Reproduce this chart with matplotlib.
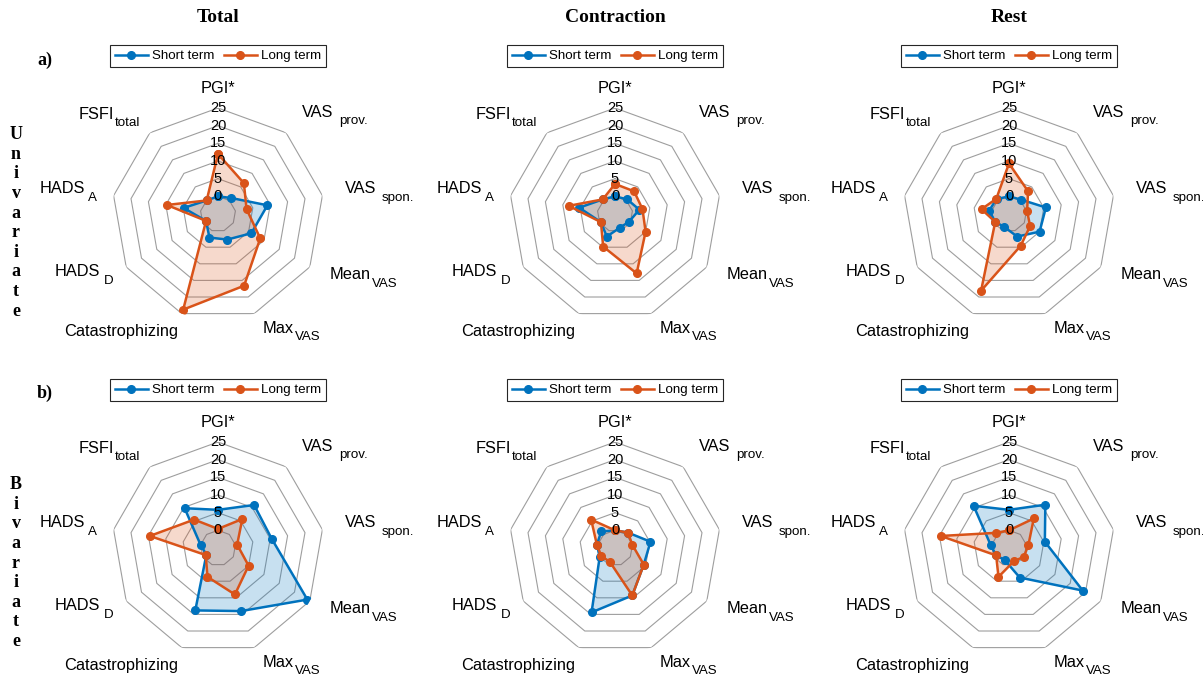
import numpy as np
import matplotlib
matplotlib.use("Agg")
import matplotlib.pyplot as plt
from matplotlib.transforms import ScaledTranslation

plt.rcParams['font.family'] = ['Liberation Sans', 'DejaVu Sans']

# axes of the spider plots (clockwise from top): main text, subscript, gap before subscript
labels = ["PGI*", "VAS", "VAS", "Mean", "Max", "Catastrophizing", "HADS", "HADS", "FSFI"]
subs = ["", "prov.", "spon.", "VAS", "VAS", "", "D", "A", "total"]
gaps = [0, 4, 4, 0.5, 0.5, 0, 2.5, 2.5, 0.5]
# small nudges of the axis labels, in pixels (right, up)
label_dx = [0, 2, 1, 1, 1, 4, 6, 5, 4]
label_dy = [-2, 4, 3, 3, 6, 3, 6, 3, 2]
col_titles = ["Total", "Contraction", "Rest"]
row_tags = ["a)", "b)"]
row_names = ["Univariate", "Bivariate"]
ticks = [0, 5, 10, 15, 20, 25]

# values, order as in labels
uni_total_short = [0, 0.9, 9.2, 5.9, 2.7, 2.1, -1.1, 4.9, 0]
uni_total_long = [12, 6.4, 3.2, 8.8, 16.6, 23.8, -1.1, 9.7, 0]
uni_contr_short = [0, 0.4, 2.0, -0.5, -0.9, 1.8, -0.4, 5.3, 0.4]
uni_contr_long = [3.5, 3.4, 2.9, 5.0, 12.9, 4.8, -0.4, 8.3, 0.4]
uni_rest_short = [0, 0.3, 5.6, 5.0, 1.8, -1.1, -0.5, 0.7, 0.5]
uni_rest_long = [9.3, 3.4, 0.2, 1.9, 4.6, 18.1, -0.5, 2.9, 0.6]
bi_total_short = [5.8, 10.9, 10.4, 24.2, 14.0, 13.8, -1.2, 0, 9.7]
bi_total_long = [0.4, 5.7, 0.5, 5.0, 9.0, 3.7, -1.0, 14.6, 5.5]
bi_contr_short = [0, 0.7, 5.2, 4.4, 9.3, 14.4, 0, 0.2, 1.1]
bi_contr_long = [0, 0.7, 0, 4.4, 9.3, -0.8, -0.5, 0.2, 5.5]
bi_rest_short = [5.8, 11.0, 5.3, 19.1, 3.9, -1.4, -0.8, 0.3, 10.6]
bi_rest_long = [0, 5.9, 0.6, -0.1, -1.0, 3.7, -0.8, 14.6, 0.6]

data = [[(uni_total_short, uni_total_long), (uni_contr_short, uni_contr_long), (uni_rest_short, uni_rest_long)],
        [(bi_total_short, bi_total_long), (bi_contr_short, bi_contr_long), (bi_rest_short, bi_rest_long)]]

blue = "#0072BD"
orange = "#D95319"
lab_fs = 11.8
sub_fs = 9.6

W, H = 1203, 677
fig = plt.figure(figsize=(W / 100, H / 100), dpi=100)
renderer = fig.canvas.get_renderer()

# width of each subscript in inches, needed for right-aligned labels
sub_w = []
for s in subs:
    t = fig.text(0, 0, s, fontsize=sub_fs)
    sub_w.append(t.get_window_extent(renderer).width / fig.dpi if s else 0)
    t.remove()

n = len(labels)
theta = np.arange(n) * 2 * np.pi / n
theta_c = np.append(theta, theta[0])

cxs = [218, 615, 1009]
cys = [214, 548]
R = 106

for i in range(2):
    for j in range(3):
        cx, cy = cxs[j], cys[i]
        ax = fig.add_axes([(cx - R) / W, (H - cy - R) / H, 2 * R / W, 2 * R / H], projection='polar')
        ax.set_theta_offset(np.pi / 2)
        ax.set_theta_direction(-1)
        ax.set_ylim(-5, 25)
        ax.grid(False)
        ax.set_xticks([])
        ax.set_yticks([])
        ax.spines['polar'].set_visible(False)

        # nonagon rings
        for t in ticks:
            ax.plot(theta_c, [t] * (n + 1), color='0.62', lw=0.8, zorder=1)

        short, long_ = data[i][j]
        series = [(short, blue, "Short term"), (long_, orange, "Long term")]
        for vals, c, name in series:
            v = np.append(vals, vals[0])
            ax.fill(theta_c, v, color=c, alpha=0.22, lw=0, zorder=2)
        for vals, c, name in series:
            v = np.append(vals, vals[0])
            ax.plot(theta_c, v, color=c, lw=1.8, marker='o', ms=5.5, label=name, zorder=3)

        for t in ticks:
            ax.text(0, t, str(t), ha='center', va='center', fontsize=10.5, zorder=5)

        for k, lab in enumerate(labels):
            ang = np.pi / 2 - theta[k]
            c = np.cos(ang)
            ha = 'center' if abs(c) < 0.1 else ('left' if c > 0 else 'right')
            dx = label_dx[k] / fig.dpi
            if ha == 'right' and subs[k]:
                dx -= sub_w[k] + gaps[k] / 72
            tr = ax.transData + ScaledTranslation(dx, label_dy[k] / fig.dpi, fig.dpi_scale_trans)
            main = ax.text(theta[k], 31.2, lab, ha=ha, va='center', fontsize=lab_fs,
                           clip_on=False, transform=tr)
            if subs[k]:
                ax.annotate(subs[k], xy=(1, 0), xycoords=main, xytext=(gaps[k], -1.2),
                            textcoords='offset points', ha='left', va='center',
                            fontsize=sub_fs, annotation_clip=False)

        leg = ax.legend(loc='center', bbox_to_anchor=(0.5, 1.245), ncol=2, fontsize=9.6,
                        frameon=True, fancybox=False, edgecolor='0.15', framealpha=1,
                        handlelength=2.5, handletextpad=0.3, columnspacing=0.7,
                        borderpad=0.38, borderaxespad=0)
        leg.get_frame().set_linewidth(0.8)

        if i == 0:
            fig.text(cx / W, 1 - 18 / H, col_titles[j], ha='center', va='center',
                     fontsize=14, fontweight='bold', family='Liberation Serif')

for i in range(2):
    fig.text(45 / W, 1 - [60, 393][i] / H, row_tags[i], ha='center', va='center',
             fontsize=13, fontweight='bold', family='Liberation Serif')
    fig.text(16 / W, 1 - [223, 563][i] / H, "\n".join(row_names[i]), ha='center', va='center',
             fontsize=13, fontweight='bold', family='Liberation Serif', linespacing=1.2)

fig.savefig("out.png", dpi=100)
